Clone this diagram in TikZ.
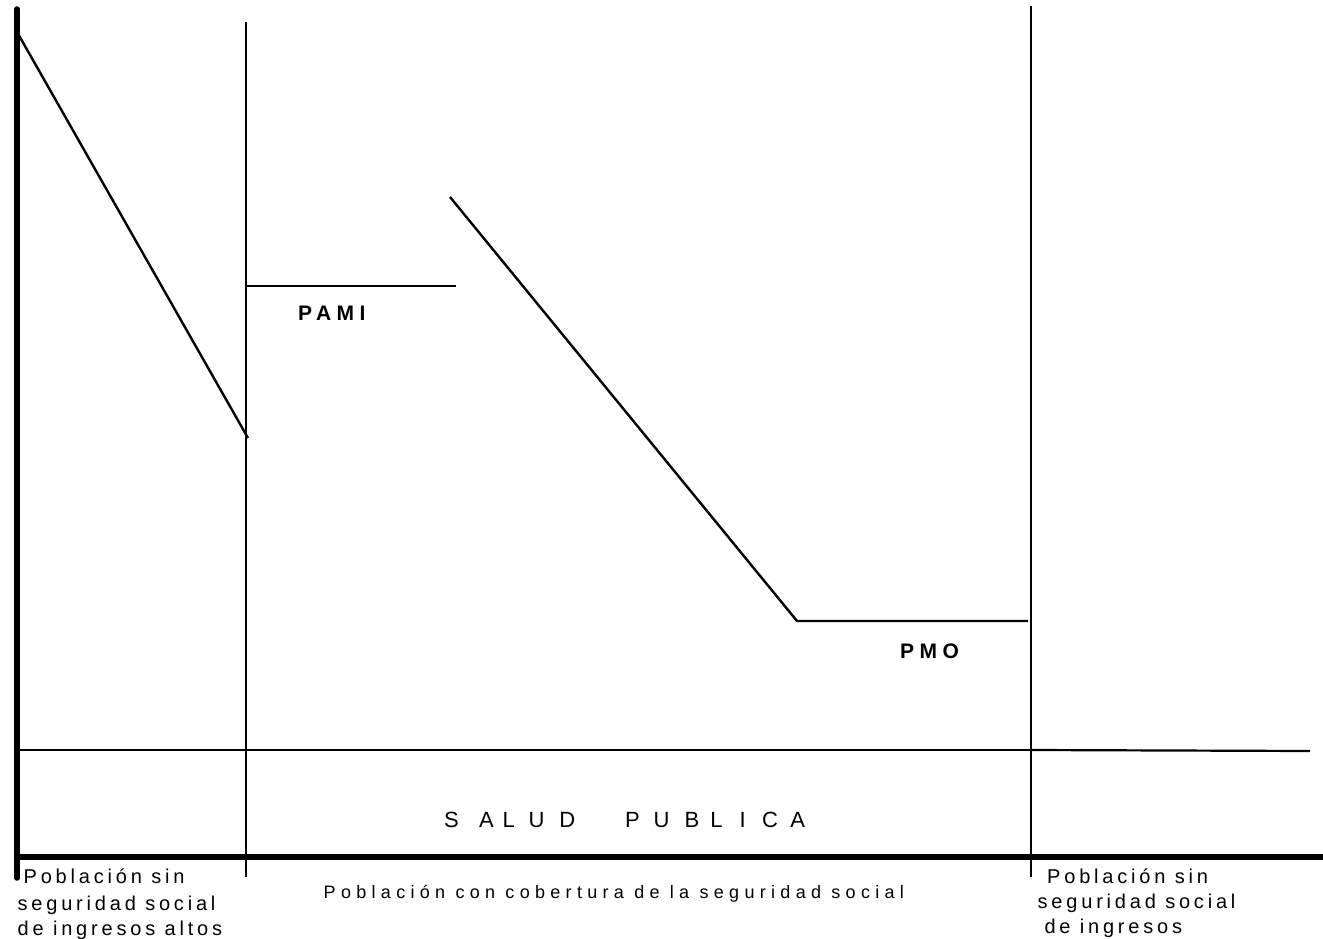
\documentclass[tikz,border=0pt]{standalone}
\usepackage{fontspec}
\setmainfont{Liberation Sans}
\newcommand\sidefont{\fontsize{20}{26}\selectfont\addfontfeature{LetterSpace=19}}
\newcommand\bodyfont{\fontsize{18}{22}\selectfont\addfontfeature{LetterSpace=29.5}}
\newcommand\bigfont{\fontsize{22}{26}\selectfont}
\newcommand\tagfont{\fontsize{21}{24}\selectfont\bfseries\addfontfeature{LetterSpace=26}}
\newcommand\g[1]{\hspace{#1pt}}
\begin{document}
\begin{tikzpicture}[x=1pt,y=-1pt,
  axisline/.style={line width=5.5pt},
  divider/.style={line width=1.2pt},
  curveline/.style={line width=2.4pt},
  lbl/.style={anchor=base west,inner sep=0pt}]
\useasboundingbox (0,0) rectangle (1323,939);
% coordinates
\coordinate (ytop) at (17,9);
\coordinate (ybot) at (17,878);
\coordinate (xl) at (14,857);
\coordinate (xr) at (1326,857);
\coordinate (d1t) at (246,22);
\coordinate (d1b) at (246,877);
\coordinate (d2t) at (1031,6);
\coordinate (d2b) at (1031,877);
\coordinate (sl) at (17,750);
\coordinate (sm) at (1031,750);
\coordinate (sr) at (1310,751);
\coordinate (a1) at (17,32);
\coordinate (a2) at (248,438);
\coordinate (p1) at (246,286);
\coordinate (p2) at (456,286);
\coordinate (b1) at (450,197);
\coordinate (b2) at (797,621);
\coordinate (b3) at (1028,621);
% axes
\draw[axisline,line cap=round] (ytop) -- (ybot);
\draw[axisline] (xl) -- (xr);
% dividers
\draw[divider] (d1t) -- (d1b);
\draw[divider] (d2t) -- (d2b);
\draw[divider] (sl) -- (sm);
\draw[line width=2.2pt] (sm) -- (sr);
% curves
\draw[curveline] (a1) -- (a2);
\draw[curveline] (p1) -- (p2);
\draw[curveline,line join=round] (b1) -- (b2) -- (b3);
% labels
\node[lbl] (pami) at (298,320) {\tagfont PAMI};
\node[lbl] (pmo) at (900,658) {\tagfont PMO};
\node[lbl] (salud) at (444,827.5) {\bigfont S\g{20.3}A\g{8.8}L\g{13.7}U\g{14.9}D\g{49.9}P\g{13.7}U\g{15.1}B\g{11.2}L\g{17.1}I\g{16.4}C\g{12.2}A};
\node[lbl] (main) at (323.5,898) {\bodyfont Población con cobertura de la seguridad social};
\node[lbl] (l1) at (23.5,883) {\sidefont Población sin};
\node[lbl] (l2) at (17.5,910) {\sidefont seguridad social};
\node[lbl] (l3) at (17.5,935) {\sidefont de ingresos altos};
\node[lbl] (r1) at (1047,883) {\sidefont Población sin};
\node[lbl] (r2) at (1037.5,908) {\sidefont seguridad social};
\node[lbl] (r3) at (1044.3,933) {\sidefont de ingresos};
\end{tikzpicture}
\end{document}
